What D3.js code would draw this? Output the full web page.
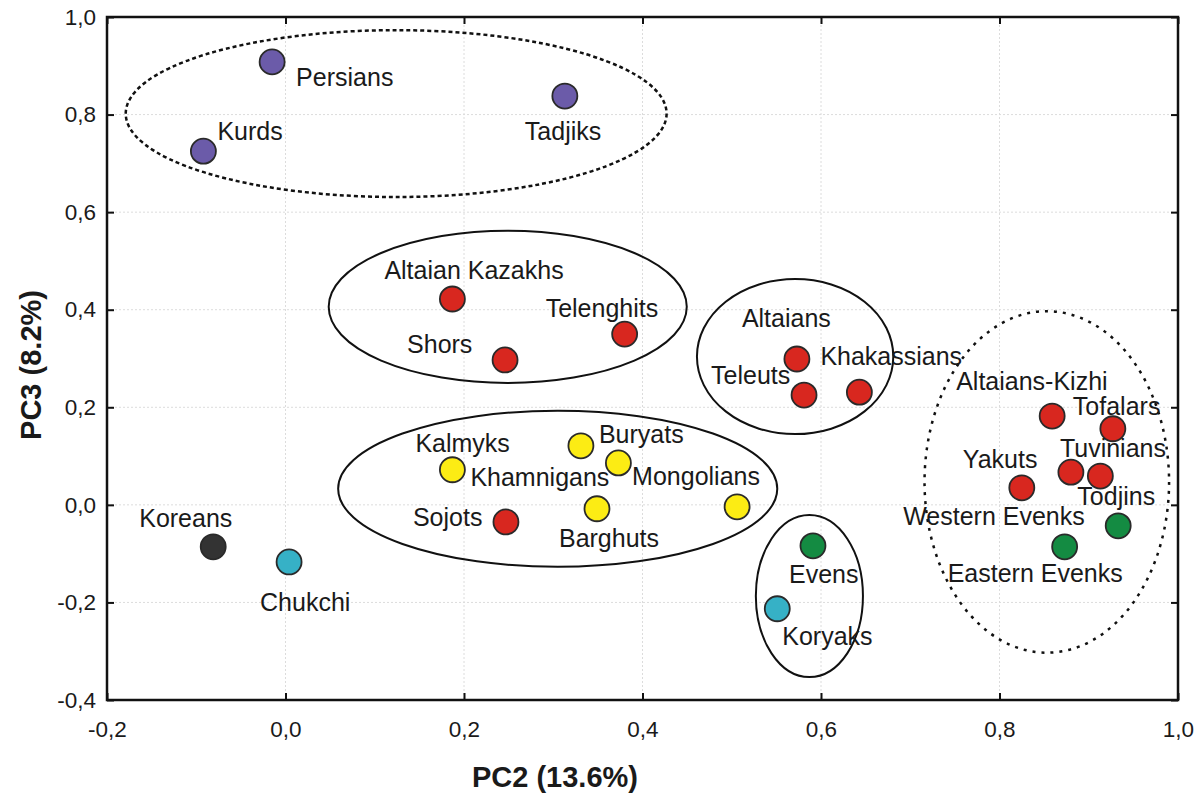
<!DOCTYPE html>
<html><head><meta charset="utf-8">
<script src="https://cdn.jsdelivr.net/npm/d3@7"></script>
<style>
body{margin:0;background:#fff}
svg{display:block}
text{font-family:"Liberation Sans",Arial,Helvetica,sans-serif;fill:#1a1a1a}
</style>
</head><body>
<svg id="chart" width="1199" height="801"></svg>
<script>
// ---------------- DATA ----------------
const populations = ["Persians","Kurds","Tadjiks","Altaian Kazakhs","Telenghits","Shors","Altaians","Teleuts","Khakassians","Altaians-Kizhi","Tofalars","Tuvinians","Todjins","Yakuts","Western Evenks","Eastern Evenks","Kalmyks","Buryats","Khamnigans","Mongolians","Barghuts","Sojots","Koreans","Chukchi","Evens","Koryaks"];
const pc2 = [-0.015,-0.092,0.313,0.187,0.380,0.246,0.573,0.581,0.643,0.859,0.927,0.880,0.913,0.825,0.933,0.873,0.187,0.331,0.373,0.506,0.349,0.247,-0.081,0.004,0.591,0.551];
const pc3 = [0.908,0.725,0.838,0.422,0.350,0.297,0.299,0.225,0.231,0.182,0.156,0.067,0.059,0.035,-0.043,-0.086,0.072,0.121,0.086,-0.004,-0.008,-0.035,-0.086,-0.117,-0.084,-0.213];
const groups = ["Iranian","Iranian","Iranian","Turkic","Turkic","Turkic","Turkic","Turkic","Turkic","Turkic","Turkic","Turkic","Turkic","Turkic","Tungusic","Tungusic","Mongolic","Mongolic","Mongolic","Mongolic","Mongolic","Turkic","Korean","Paleo-Asiatic","Tungusic","Paleo-Asiatic"];

const xTicks = [-0.2,0.0,0.2,0.4,0.6,0.8,1.0];
const xTickLabels = ["-0,2","0,0","0,2","0,4","0,6","0,8","1,0"];
const yTicks = [-0.4,-0.2,0.0,0.2,0.4,0.6,0.8,1.0];
const yTickLabels = ["-0,4","-0,2","0,0","0,2","0,4","0,6","0,8","1,0"];

const xTitle = "PC2 (13.6%)";
const yTitle = "PC3 (8.2%)";

// cluster ellipses (data units)
const ellipseCx = [0.124,0.249,0.571,0.305,0.587,0.853];
const ellipseCy = [0.802,0.406,0.304,0.033,-0.187,0.047];
const ellipseRx = [0.303,0.2006,0.110,0.246,0.060,0.137];
const ellipseRy = [0.171,0.156,0.159,0.160,0.166,0.350];
const ellipseDotted = [true,false,false,false,false,true];

// ---------------- LAYOUT / STYLE ----------------
const groupColor = {"Iranian":"#6b5ba9","Turkic":"#d8271f","Mongolic":"#fcec14","Tungusic":"#148b42","Paleo-Asiatic":"#36b1c6","Korean":"#333333"};
// label offsets from point centre (px): text start, baseline
const labelDx = [24,14,-40,-68,-79,-98,-55,-93,-39,-96,-40,-11,-23,-59,-215,-117,-37,18,-148,-105,-38,-93,-74,-29,-24,5];
const labelDy = [24,-11,44,-20,-17,-7,-32,-11,-27,-26,-14,-15,29,-20,-1,35,-18,-3,23,-22,38,4,-20,49,37,36];

const mLeft = 107, mRight = 1178, mTop = 17, mBottom = 700;

const svg = d3.select("#chart");
const x = d3.scaleLinear().domain([-0.2,1.0]).range([mLeft,mRight]);
const y = d3.scaleLinear().domain([-0.4,1.0]).range([mBottom,mTop]);

// gridlines
const grid = svg.append("g");
grid.selectAll("line.gx").data(xTicks.slice(1,-1)).join("line").attr("class","gx")
  .attr("x1",d=>x(d)).attr("x2",d=>x(d)).attr("y1",mTop).attr("y2",mBottom)
  .attr("stroke","#dcdcdc").attr("stroke-width",1).attr("stroke-dasharray","2,2");
grid.selectAll("line.gy").data(yTicks.slice(1,-1)).join("line").attr("class","gy")
  .attr("y1",d=>y(d)).attr("y2",d=>y(d)).attr("x1",mLeft).attr("x2",mRight)
  .attr("stroke","#dcdcdc").attr("stroke-width",1).attr("stroke-dasharray","2,2");

// axes with inward ticks
const fmtX = (d)=>xTickLabels[xTicks.indexOf(d)];
const fmtY = (d)=>yTickLabels[yTicks.indexOf(d)];
const axB = svg.append("g").attr("transform",`translate(0,${mBottom})`)
  .call(d3.axisBottom(x).tickValues(xTicks).tickFormat(fmtX).tickSizeInner(-7).tickSizeOuter(0).tickPadding(21));
const axL = svg.append("g").attr("transform",`translate(${mLeft},0)`)
  .call(d3.axisLeft(y).tickValues(yTicks).tickFormat(fmtY).tickSizeInner(-7).tickSizeOuter(0).tickPadding(11));
const axT = svg.append("g").attr("transform",`translate(0,${mTop})`)
  .call(d3.axisTop(x).tickValues(xTicks).tickFormat("").tickSizeInner(-7).tickSizeOuter(0));
const axR = svg.append("g").attr("transform",`translate(${mRight},0)`)
  .call(d3.axisRight(y).tickValues(yTicks).tickFormat("").tickSizeInner(-7).tickSizeOuter(0));
[axB,axL,axT,axR].forEach(a=>{
  a.select(".domain").remove();
  a.selectAll(".tick line").attr("stroke","#111").attr("stroke-width",2);
  a.selectAll(".tick text").attr("font-size",22.5).attr("fill","#1a1a1a")
    .attr("font-family","'Liberation Sans',Arial,sans-serif");
});

// frame
svg.append("rect").attr("x",mLeft).attr("y",mTop).attr("width",mRight-mLeft).attr("height",mBottom-mTop)
  .attr("fill","none").attr("stroke","#111").attr("stroke-width",2.5);

// ellipses
svg.append("g").selectAll("ellipse").data(ellipseCx.map((c,i)=>i)).join("ellipse")
  .attr("cx",i=>x(ellipseCx[i])).attr("cy",i=>y(ellipseCy[i]))
  .attr("rx",i=>x(ellipseCx[i]+ellipseRx[i])-x(ellipseCx[i]))
  .attr("ry",i=>y(ellipseCy[i])-y(ellipseCy[i]+ellipseRy[i]))
  .attr("fill","none").attr("stroke","#111")
  .attr("stroke-width",i=>ellipseDotted[i]?2.5:2)
  .attr("stroke-dasharray",i=>ellipseDotted[i]?(i===0?"4,3":"3,6"):null);

// points
const pts = populations.map((n,i)=>({name:n,x:pc2[i],y:pc3[i],g:groups[i],dx:labelDx[i],dy:labelDy[i]}));
svg.append("g").selectAll("circle").data(pts).join("circle")
  .attr("cx",d=>x(d.x)).attr("cy",d=>y(d.y)).attr("r",12.5)
  .attr("fill",d=>groupColor[d.g]).attr("stroke","#2a2a2a").attr("stroke-width",1.8);

// labels
svg.append("g").selectAll("text").data(pts).join("text")
  .attr("x",d=>x(d.x)+d.dx).attr("y",d=>y(d.y)+d.dy)
  .attr("font-size",25).text(d=>d.name);

// axis titles
svg.append("text").attr("x",555).attr("y",787).attr("text-anchor","middle")
  .attr("font-size",29).attr("font-weight","bold").text(xTitle);
svg.append("text").attr("transform",`translate(41,365) rotate(-90)`).attr("text-anchor","middle")
  .attr("font-size",29).attr("font-weight","bold").text(yTitle);
</script>
</body></html>
